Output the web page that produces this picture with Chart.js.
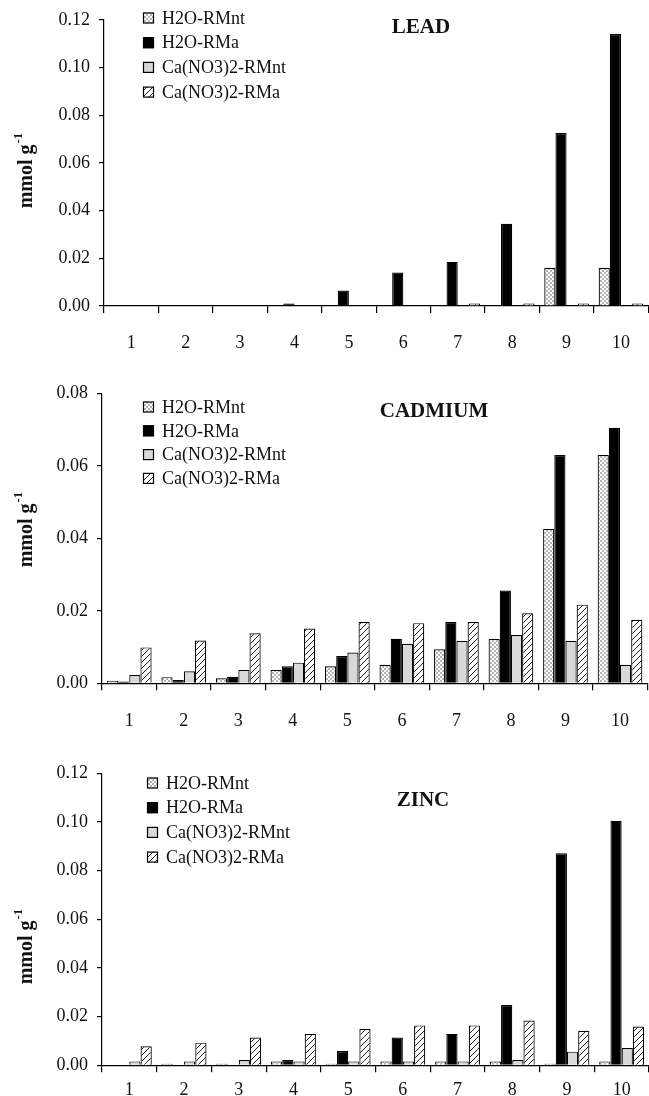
<!DOCTYPE html>
<html>
<head>
<meta charset="utf-8">
<script src="https://cdn.jsdelivr.net/npm/chart.js@4.4.1/dist/chart.umd.min.js"></script>
<style>
    body { margin: 0; background: #fff; }
    canvas.panel { position: absolute; left: 0; }
</style>
</head>
<body>
<canvas id="lead-chart" class="panel" width="649" height="360" style="top:0px"></canvas>
<canvas id="cadmium-chart" class="panel" width="649" height="375" style="top:360px"></canvas>
<canvas id="zinc-chart" class="panel" width="649" height="361" style="top:735px"></canvas>
<script>
// categories and series names
const steps = ["1", "2", "3", "4", "5", "6", "7", "8", "9", "10"];
const seriesNames = ["H2O-RMnt", "H2O-RMa", "Ca(NO3)2-RMnt", "Ca(NO3)2-RMa"];

// LEAD (mmol g-1)
const leadH2ORMnt = [0, 0, 0, 0, 0, 0, 0, 0, 0.016, 0.016];
const leadH2ORMa = [0, 0, 0, 0.001, 0.0065, 0.014, 0.0185, 0.0345, 0.0725, 0.114];
const leadCaRMnt = [0, 0, 0, 0, 0, 0, 0, 0, 0, 0];
const leadCaRMa = [0, 0, 0, 0, 0, 0, 0.001, 0.001, 0.001, 0.001];

// CADMIUM
const cadH2ORMnt = [0.0007, 0.0017, 0.0014, 0.0037, 0.0047, 0.0051, 0.0094, 0.0122, 0.0426, 0.063];
const cadH2ORMa = [0.0005, 0.0009, 0.0018, 0.0047, 0.0075, 0.0123, 0.0169, 0.0256, 0.063, 0.0705];
const cadCaRMnt = [0.0023, 0.0033, 0.0037, 0.0057, 0.0085, 0.0109, 0.0117, 0.0133, 0.0117, 0.0051];
const cadCaRMa = [0.0099, 0.0118, 0.0138, 0.0151, 0.0169, 0.0166, 0.0169, 0.0193, 0.0217, 0.0175];

// ZINC
const zincH2ORMnt = [0, 0.0006, 0.0006, 0.0016, 0.0006, 0.0016, 0.0016, 0.0016, 0.0006, 0.0016];
const zincH2ORMa = [0, 0, 0, 0.0022, 0.0059, 0.0114, 0.0129, 0.0248, 0.0871, 0.1005];
const zincCaRMnt = [0.0016, 0.0016, 0.0022, 0.0016, 0.0016, 0.0016, 0.0016, 0.0022, 0.0056, 0.0071];
const zincCaRMa = [0.0078, 0.0093, 0.0114, 0.0129, 0.0149, 0.0164, 0.0164, 0.0184, 0.0142, 0.0159];

// y tick values per panel
const leadTicks = [0, 0.02, 0.04, 0.06, 0.08, 0.10, 0.12];
const cadTicks = [0, 0.02, 0.04, 0.06, 0.08];
const zincTicks = [0, 0.02, 0.04, 0.06, 0.08, 0.10, 0.12];

const SERIF = '"Liberation Serif", "Times New Roman", serif';

function makeTile(size, draw) {
    const c = document.createElement("canvas");
    c.width = size;
    c.height = size;
    const g = c.getContext("2d");
    g.fillStyle = "#fff";
    g.fillRect(0, 0, size, size);
    draw(g);
    return c;
}

function fills(ctx) {
    const dots = ctx.createPattern(makeTile(4, g => {
        g.fillStyle = "#b4b4b4";
        g.fillRect(0, 0, 2, 2);
        g.fillRect(2, 2, 2, 2);
    }), "repeat");
    const hatch = ctx.createPattern(makeTile(6, g => {
        g.strokeStyle = "#222";
        g.lineWidth = 1;
        g.beginPath();
        g.moveTo(-1, 7); g.lineTo(7, -1);
        g.moveTo(-4, 4); g.lineTo(4, -4);
        g.moveTo(2, 10); g.lineTo(10, 2);
        g.stroke();
    }), "repeat");
    return [dots, "#000000", "#d8d8d8", hatch];
}

const panelDeco = {
    id: "panelDeco",
    afterDraw(chart, args, opts) {
        const ctx = chart.ctx;
        ctx.save();
        ctx.fillStyle = "#111";
        ctx.textAlign = "center";
        ctx.textBaseline = "middle";
        ctx.font = "bold 21px " + SERIF;
        ctx.fillText(opts.title, opts.titleX, opts.titleY);

        // legend inside the plot
        ctx.textAlign = "left";
        ctx.font = "18px " + SERIF;
        chart.data.datasets.forEach((ds, i) => {
            const y = opts.legendY + i * opts.legendStep;
            ctx.fillStyle = ds.backgroundColor;
            ctx.fillRect(opts.legendX, y - 5.5, 11, 11);
            ctx.strokeStyle = "#000";
            ctx.lineWidth = 1.2;
            ctx.strokeRect(opts.legendX + 0.5, y - 5, 10, 10);
            ctx.fillStyle = "#111";
            ctx.fillText(ds.label, opts.legendX + 19, y + 1);
        });

        // rotated y title with superscript
        ctx.translate(opts.yTitleX, opts.yTitleY);
        ctx.rotate(-Math.PI / 2);
        ctx.textBaseline = "alphabetic";
        ctx.font = "bold 20px " + SERIF;
        const w1 = ctx.measureText("mmol g").width;
        ctx.font = "bold 13px " + SERIF;
        const w2 = ctx.measureText("-1").width;
        const x0 = -(w1 + w2) / 2;
        ctx.font = "bold 20px " + SERIF;
        ctx.fillText("mmol g", x0, 7);
        ctx.font = "bold 13px " + SERIF;
        ctx.fillText("-1", x0 + w1 + 1, -3);
        ctx.restore();
    }
};

function buildChart(canvasId, seriesData, yMax, tickVals, frame, deco) {
    const canvas = document.querySelector("#" + canvasId);
    const ctx = canvas.getContext("2d");
    const fillList = fills(ctx);
    const datasets = seriesData.map((vals, i) => ({
        label: seriesNames[i],
        data: vals,
        backgroundColor: fillList[i],
        borderColor: "#000",
        borderWidth: 1.2,
        borderSkipped: "start",
        categoryPercentage: 0.82,
        barPercentage: 1.0
    }));
    return new Chart(canvas, {
        type: "bar",
        data: { labels: steps, datasets: datasets },
        plugins: [panelDeco],
        options: {
            responsive: false,
            animation: false,
            events: [],
            layout: { padding: { top: frame.top, left: 0, right: 0, bottom: frame.bottom } },
            plugins: {
                legend: { display: false },
                tooltip: { enabled: false },
                title: { display: false },
                panelDeco: deco
            },
            scales: {
                x: {
                    grid: {
                        offset: true,
                        drawOnChartArea: false,
                        drawTicks: true,
                        tickLength: 7,
                        color: "#000",
                        lineWidth: 1.2
                    },
                    border: { display: true, color: "#000", width: 1.2 },
                    ticks: {
                        color: "#111",
                        padding: frame.labelPad,
                        font: { family: SERIF, size: 18 },
                        maxRotation: 0
                    },
                    afterFit(scale) { scale.height = frame.xHeight; }
                },
                y: {
                    min: 0,
                    max: yMax,
                    afterBuildTicks(scale) {
                        scale.ticks = tickVals.map(v => ({ value: v }));
                    },
                    grid: {
                        drawOnChartArea: false,
                        drawTicks: true,
                        tickLength: 5,
                        color: "#000",
                        lineWidth: 1.2
                    },
                    border: { display: true, color: "#000", width: 1.2 },
                    ticks: {
                        color: "#111",
                        padding: 9,
                        font: { family: SERIF, size: 18 },
                        callback: v => Number(v).toFixed(2)
                    },
                    afterFit(scale) { scale.width = frame.left; }
                }
            }
        }
    });
}

function main() {
    buildChart("lead-chart",
        [leadH2ORMnt, leadH2ORMa, leadCaRMnt, leadCaRMa],
        0.12, leadTicks,
        { top: 12.7, bottom: 6, left: 104, xHeight: 48, labelPad: 19 },
        { title: "LEAD", titleX: 421, titleY: 28, legendX: 143, legendY: 18, legendStep: 24.7, yTitleX: 25, yTitleY: 171 });

    buildChart("cadmium-chart",
        [cadH2ORMnt, cadH2ORMa, cadCaRMnt, cadCaRMa],
        0.08, cadTicks,
        { top: 33.3, bottom: 3.7, left: 102, xHeight: 48, labelPad: 20 },
        { title: "CADMIUM", titleX: 434, titleY: 52, legendX: 143, legendY: 47, legendStep: 23.8, yTitleX: 25, yTitleY: 170 });

    buildChart("zinc-chart",
        [zincH2ORMnt, zincH2ORMa, zincCaRMnt, zincCaRMa],
        0.12, zincTicks,
        { top: 38.3, bottom: 0.7, left: 102, xHeight: 30, labelPad: 7 },
        { title: "ZINC", titleX: 423, titleY: 66, legendX: 147, legendY: 48, legendStep: 24.7, yTitleX: 25, yTitleY: 212 });
}

main();
</script>
</body>
</html>
